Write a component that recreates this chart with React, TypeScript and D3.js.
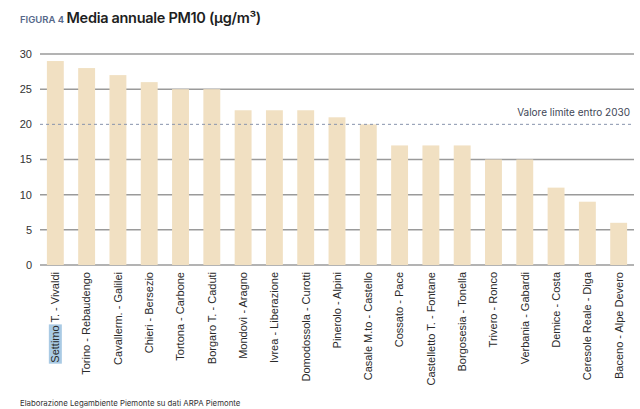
import React, { useEffect, useRef } from 'react'
import * as d3 from 'd3'

const stations = [
  'Settimo T. - Vivaldi', 'Torino - Rebaudengo', 'Cavallerm. - Galilei', 'Chieri - Bersezio',
  'Tortona - Carbone', 'Borgaro T. - Caduti', 'Mondovì - Aragno', 'Ivrea - Liberazione',
  'Domodossola - Curotti', 'Pinerolo - Alpini', 'Casale M.to - Castello', 'Cossato - Pace',
  'Castelletto T. - Fontane', 'Borgosesia - Tonella', 'Trivero - Ronco', 'Verbania - Gabardi',
  'Demice - Costa', 'Ceresole Reale - Diga', 'Baceno - Alpe Devero'
]
const pm10 = [29, 28, 27, 26, 25, 25, 22, 22, 22, 21, 20, 17, 17, 17, 15, 15, 11, 9, 6]
const yTicks = [0, 5, 10, 15, 20, 25, 30]
const limitValue = 20
const limitLabel = 'Valore limite entro 2030'

const width = 640
const height = 409

export default function App() {
  const svgRef = useRef<SVGSVGElement | null>(null)

  useEffect(() => {
    const svg = d3.select(svgRef.current)
    svg.selectAll('*').remove()

    const x = d3.scaleBand<string>()
      .domain(stations)
      .range([40, 634])
      .paddingInner(0.46)
      .paddingOuter(0.22)

    const y = d3.scaleLinear().domain([0, 30]).range([265, 54])

    // title
    const title = svg.append('text')
      .attr('x', 20).attr('y', 23)
    title.append('tspan')
      .attr('font-family', 'Inter, sans-serif')
      .attr('font-size', 9.5)
      .attr('font-weight', 600)
      .attr('fill', '#56688a')
      .text('FIGURA 4 ')
    title.append('tspan')
      .attr('font-family', 'Inter, sans-serif')
      .attr('font-size', 14.5)
      .attr('font-weight', 600)
      .attr('fill', '#1e1e1e')
      .attr('letter-spacing', -0.3)
      .text('Media annuale PM10 (µg/m³)')

    // gridlines (behind bars)
    svg.append('g')
      .selectAll('line')
      .data(yTicks.filter(t => t !== limitValue))
      .join('line')
      .attr('x1', 40).attr('x2', 634)
      .attr('y1', d => y(d)).attr('y2', d => y(d))
      .attr('stroke', '#9a9a9a')
      .attr('stroke-width', 1.5)

    // y tick labels
    svg.append('g')
      .selectAll('text')
      .data(yTicks)
      .join('text')
      .attr('x', 32)
      .attr('y', d => y(d))
      .attr('dy', '0.35em')
      .attr('text-anchor', 'end')
      .attr('font-family', 'Liberation Sans, Arial, sans-serif')
      .attr('font-size', 11)
      .attr('fill', '#333')
      .text(d => d)

    // bars
    svg.append('g')
      .selectAll('rect')
      .data(pm10)
      .join('rect')
      .attr('x', (d, i) => x(stations[i]) as number)
      .attr('width', x.bandwidth())
      .attr('y', d => y(d))
      .attr('height', d => y(0) - y(d))
      .attr('fill', '#f1e0c2')

    // limit line
    svg.append('line')
      .attr('x1', 40).attr('x2', 634)
      .attr('y1', y(limitValue)).attr('y2', y(limitValue))
      .attr('stroke', '#8793ad')
      .attr('stroke-width', 1)
      .attr('stroke-dasharray', '3,3')

    svg.append('text')
      .attr('x', 630)
      .attr('y', y(limitValue) - 8)
      .attr('text-anchor', 'end')
      .attr('font-family', 'Inter, sans-serif')
      .attr('font-size', 10)
      .attr('fill', '#3e4656')
      .text(limitLabel)

    // x labels
    const labels = svg.append('g')
      .selectAll('g')
      .data(stations)
      .join('g')
      .attr('transform', d => `translate(${(x(d) as number) + x.bandwidth() / 2}, 272) rotate(-90)`)

    labels.each(function (d, i) {
      const g = d3.select(this)
      if (i === 0) g.append('rect').attr('class', 'hl')
      g.append('text')
        .attr('text-anchor', 'end')
        .attr('dy', '0.35em')
        .attr('font-family', 'Liberation Sans, Arial, sans-serif')
        .attr('font-size', 11)
        .attr('fill', '#2a2a2a')
        .text(d)
    })

    // highlight behind "Settimo"
    const firstText = labels.filter((d, i) => i === 0).select('text').node() as SVGTextElement
    if (firstText) {
      const L = firstText.getComputedTextLength()
      const w = firstText.getSubStringLength(0, 7)
      labels.filter((d, i) => i === 0).select('rect.hl')
        .attr('x', -L - 1)
        .attr('y', -6.5)
        .attr('width', w + 2)
        .attr('height', 13)
        .attr('fill', '#a9cae4')
    }

    // footer
    svg.append('text')
      .attr('x', 20).attr('y', 406)
      .attr('font-family', 'Inter, sans-serif')
      .attr('font-size', 7.8)
      .attr('fill', '#333')
      .text('Elaborazione Legambiente Piemonte su dati ARPA Piemonte')
  }, [])

  return (
    <svg
      ref={svgRef}
      width={width}
      height={height}
      style={{ position: 'absolute', left: 0, top: 0, background: '#fff' }}
    />
  )
}
